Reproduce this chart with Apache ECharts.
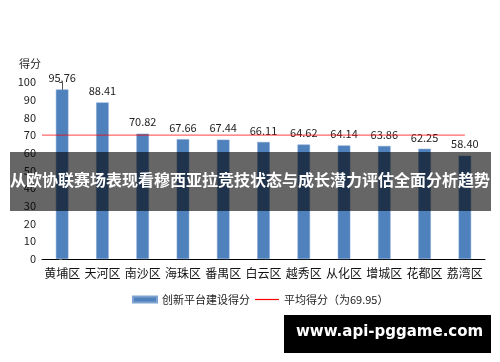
<!DOCTYPE html>
<html><head><meta charset="utf-8">
<script src="https://cdn.jsdelivr.net/npm/echarts@6/dist/echarts.min.js"></script>
<style>html,body{margin:0;padding:0;background:#fff}#c{width:500px;height:362px}</style>
</head><body><div id="c"></div>
<script>
var categories = ['黄埔区','天河区','南沙区','海珠区','番禺区','白云区','越秀区','从化区','增城区','花都区','荔湾区'];
var scores = [95.76, 88.41, 70.82, 67.66, 67.44, 66.11, 64.62, 64.14, 63.86, 62.25, 58.40];
var average = 69.95;
var yTicks = [0, 10, 20, 30, 40, 50, 60, 70, 80, 90, 100];
var yName = '得分';
var barName = '创新平台建设得分';
var lineName = '平均得分（为69.95）';
var bannerText = '从欧协联赛场表现看穆西亚拉竞技状态与成长潜力评估全面分析趋势';
var watermark = 'www.api-pggame.com';

var font = '"Noto Sans CJK SC", "Microsoft YaHei", sans-serif';
var chart = echarts.init(document.getElementById('c'));
chart.setOption({
  animation: false,
  textStyle: {fontFamily: font},
  grid: {left: 42, right: 15, top: 82, bottom: 103, containLabel: false},
  legend: {
    left: 127, top: 289, itemGap: 5, itemWidth: 24, itemHeight: 6,
    textStyle: {fontSize: 11, color: '#222', fontFamily: font},
    data: [{name: barName, icon: 'rect'}, {name: lineName, icon: 'path://M0,0h24v1.2h-24z'}]
  },
  xAxis: [{
    type: 'category', data: categories,
    axisLine: {lineStyle: {color: '#000', width: 1}},
    axisTick: {show: false},
    axisLabel: {fontSize: 12, color: '#111', margin: 8, interval: 0}
  }, {
    type: 'value', min: -0.5, max: categories.length - 0.5, show: false
  }],
  yAxis: {
    type: 'value', min: yTicks[0], max: yTicks[yTicks.length - 1], interval: 10,
    axisLine: {show: true, lineStyle: {color: '#555'}},
    axisTick: {show: true, length: 3, lineStyle: {color: '#555'}},
    splitLine: {show: false},
    axisLabel: {fontSize: 11, color: '#222', margin: 6}
  },
  series: [{
    name: barName, type: 'bar', data: scores, barWidth: '31%',
    itemStyle: {color: '#4F81BD', borderColor: '#7fa3d0', borderWidth: 0.5},
    label: {show: true, position: 'top', distance: 6, fontSize: 11, color: '#222',
      formatter: function (p) { return p.value.toFixed(2); }}
  }, {
    name: lineName, type: 'line', xAxisIndex: 1, symbol: 'none',
    data: [[-0.5, average], [categories.length - 1, average]],
    lineStyle: {color: '#FF0000', width: 1.2, opacity: 0.6},
    itemStyle: {color: '#FF0000'}
  }],
  graphic: [{
    type: 'text', left: 19, top: 58,
    style: {text: yName, fill: '#222', font: '11px ' + font}
  }, {
    type: 'rect', left: 10, top: 152, shape: {width: 481, height: 59},
    style: {fill: 'rgba(0,0,0,0.6)'}, z: 100
  }, {
    type: 'text', left: 'center', top: 172,
    style: {text: bannerText, fill: '#fff', font: 'bold 16px ' + font}, z: 101
  }, {
    type: 'rect', left: 284, top: 315, shape: {width: 207, height: 38},
    style: {fill: '#000'}, z: 100
  }, {
    type: 'text', left: 296, top: 325,
    style: {text: watermark, fill: '#fff', font: 'bold 15px "DejaVu Sans", sans-serif'}, z: 101
  }]
});
</script></body></html>
